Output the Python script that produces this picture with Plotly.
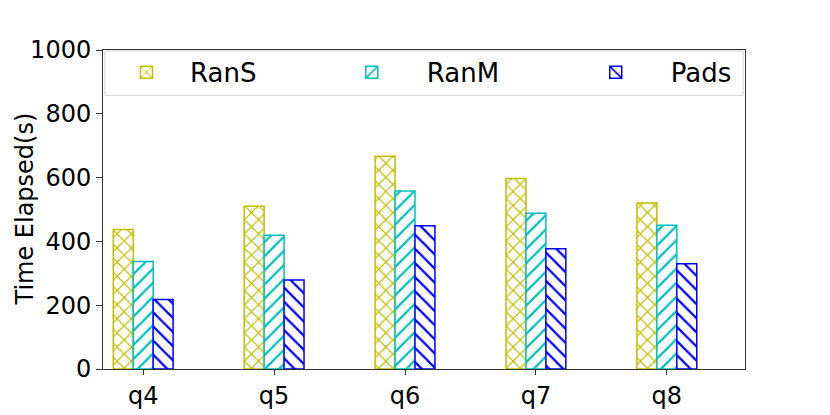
import plotly.graph_objects as go

categories = ["q4", "q5", "q6", "q7", "q8"]
series_names = ["RanS", "RanM", "Pads"]
rans = [437, 510, 667, 597, 520]
ranm = [337, 419, 558, 488, 451]
pads = [218, 279, 449, 377, 330]
y_ticks = [0, 200, 400, 600, 800, 1000]
y_title = "Time Elapsed(s)"

colors = ["#bfbf00", "#00bfbf", "#0000ff"]
shapes = ["x", "/", "\\"]
values = [rans, ranm, pads]
legend_ids = ["legend", "legend2", "legend3"]

x_pos = list(range(len(categories)))

fig = go.Figure()
for name, vals, col, shp, lg in zip(series_names, values, colors, shapes, legend_ids):
    fig.add_trace(go.Bar(
        x=x_pos, y=vals, name=name, legend=lg, showlegend=True,
        marker=dict(
            color="rgba(255,255,255,0)",
            line=dict(color=col, width=1.5),
            pattern=dict(shape=shp, fgcolor=col, bgcolor="white", size=10,
                         solidity=0.22, fgopacity=1),
        ),
    ))

font = "DejaVu Sans, sans-serif"
# the page body adds an 8px offset; margins compensate for it
PW, PH = 830, 415
L, T = 95, 42
plot_w = 642
plot_h = 319
R = PW - L - plot_w
B = PH - T - plot_h

leg_common = dict(
    orientation="h", yanchor="middle", xanchor="left", y=0.93,
    bgcolor="rgba(0,0,0,0)", borderwidth=0, font=dict(size=26),
    visible=True,
)

fig.update_layout(
    width=PW, height=PH,
    margin=dict(l=L, r=R, t=T, b=B),
    showlegend=True,
    barmode="group", bargap=0.543, bargroupgap=0,
    plot_bgcolor="white", paper_bgcolor="white",
    font=dict(family=font, size=24, color="black"),
    legend=dict(x=0.0, itemwidth=77, **leg_common),
    legend2=dict(x=0.333, itemwidth=100, **leg_common),
    legend3=dict(x=0.713, itemwidth=100, **leg_common),
    shapes=[dict(
        type="rect", xref="paper", yref="paper",
        x0=0.003, x1=0.997, y0=0.858, y1=0.997,
        line=dict(color="#d0d0d0", width=1), fillcolor="rgba(255,255,255,0.8)",
        layer="below",
    )],
    annotations=[dict(
        text=y_title, xref="paper", yref="paper", x=-0.123, y=0.5,
        xanchor="center", yanchor="middle", textangle=-90, showarrow=False,
        font=dict(size=24, family=font, color="black"),
    )],
    xaxis=dict(
        range=[-0.307, 4.597], tickvals=x_pos, ticktext=categories,
        showline=True, linecolor="#333333", linewidth=1, mirror=True,
        ticks="outside", ticklen=5, tickcolor="#333333",
        showgrid=False, zeroline=False, tickfont=dict(size=24),
        automargin=False,
    ),
    yaxis=dict(
        range=[0, 1000], tickvals=y_ticks,
        showline=True, linecolor="#333333", linewidth=1, mirror=True,
        ticks="outside", ticklen=6, tickcolor="#333333",
        showgrid=False, zeroline=False, tickfont=dict(size=24),
        automargin=False,
    ),
)

fig.write_html("out.html")
